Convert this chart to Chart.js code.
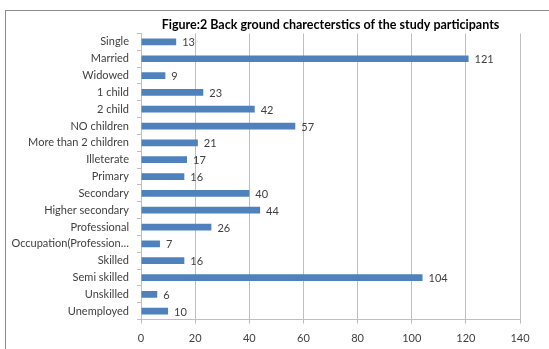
<!DOCTYPE html>
<html>
<head>
<meta charset="utf-8">
<script src="https://cdn.jsdelivr.net/npm/chart.js@4/dist/chart.umd.min.js"></script>
<style>
  html, body { margin: 0; padding: 0; background: #ffffff; }
  #wrap { width: 549px; height: 349px; position: relative; }
</style>
</head>
<body>
<div id="wrap"><canvas id="c" width="549" height="349"></canvas></div>
<script>
// Participant characteristics (counts)
const categories = [
  'Single', 'Married', 'Widowed', '1 child', '2 child', 'NO children',
  'More than 2 children', 'Illeterate', 'Primary', 'Secondary',
  'Higher secondary', 'Professional', 'Occupation(Profession\u2026',
  'Skilled', 'Semi skilled', 'Unskilled', 'Unemployed'
];
const counts = [13, 121, 9, 23, 42, 57, 21, 17, 16, 40, 44, 26, 7, 16, 104, 6, 10];
const xTicks = [0, 20, 40, 60, 80, 100, 120, 140];
const titleText = 'Figure:2 Back ground charecterstics of the study participants';

const FONT = 'Lato, "Open Sans", sans-serif';
const GRID = '#bfbfbf';
const TEXT = '#404040';

// White background and the frame around the chart
const framePlugin = {
  id: 'frame',
  beforeDraw(chart) {
    const ctx = chart.ctx;
    ctx.save();
    ctx.fillStyle = '#ffffff';
    ctx.fillRect(0, 0, chart.width, chart.height);
    ctx.strokeStyle = '#8c8c8c';
    ctx.lineWidth = 1;
    ctx.strokeRect(5.5, 10.5, 700, 500);
    ctx.restore();
  }
};

// Value labels to the right of every bar
const valueLabels = {
  id: 'valueLabels',
  afterDatasetsDraw(chart) {
    const ctx = chart.ctx;
    const meta = chart.getDatasetMeta(0);
    const data = chart.data.datasets[0].data;
    ctx.save();
    ctx.font = '11px ' + FONT;
    ctx.fillStyle = TEXT;
    ctx.textAlign = 'left';
    ctx.textBaseline = 'middle';
    meta.data.forEach((bar, i) => {
      ctx.fillText(String(data[i]), bar.x + 6, bar.y + 1);
    });
    ctx.restore();
  }
};

new Chart(document.getElementById('c'), {
  type: 'bar',
  data: {
    labels: categories,
    datasets: [{
      data: counts,
      backgroundColor: '#4f81bd',
      borderWidth: 0,
      categoryPercentage: 0.8,
      barPercentage: 0.5
    }]
  },
  options: {
    indexAxis: 'y',
    responsive: false,
    animation: false,
    devicePixelRatio: 1,
    layout: { padding: { top: 10, right: 29, bottom: 0, left: 0 } },
    plugins: {
      legend: { display: false },
      tooltip: { enabled: false },
      title: {
        display: true,
        text: titleText,
        fullSize: false,
        color: '#000000',
        font: { family: FONT, size: 12.5, weight: 'bold' },
        padding: { top: 7, bottom: 1.5 }
      }
    },
    scales: {
      x: {
        min: 0,
        max: 140,
        afterBuildTicks(scale) { scale.ticks = xTicks.map(v => ({ value: v })); },
        afterFit(scale) { scale.height = 29.4; },
        grid: { color: GRID, tickLength: 4, drawTicks: true },
        border: { color: GRID },
        ticks: { color: TEXT, font: { family: FONT, size: 11 }, padding: 8 }
      },
      y: {
        afterFit(scale) { scale.width = 141; },
        grid: { drawOnChartArea: false, offset: true, color: GRID, tickLength: 4 },
        border: { color: GRID },
        ticks: { color: TEXT, font: { family: FONT, size: 11 }, padding: 8, autoSkip: false }
      }
    }
  },
  plugins: [framePlugin, valueLabels]
});
</script>
</body>
</html>
